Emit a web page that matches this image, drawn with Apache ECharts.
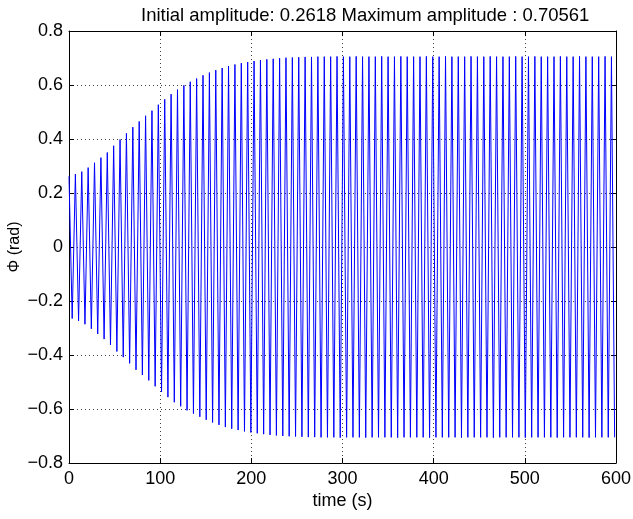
<!DOCTYPE html>
<html>
<head>
<meta charset="utf-8">
<script src="https://cdn.jsdelivr.net/npm/echarts@6/dist/echarts.min.js"></script>
<style>
html,body{margin:0;padding:0;background:#fff;}
#chart{width:633px;height:519px;}
</style>
</head>
<body>
<div id="chart"></div>
<script>
// Times (s) of the positive peaks
var peakTimes = [0,7,14,21,28,35,42,49,56,63,70,77,84,91,98,105,112,119,126,133,140,147,154,161,168,175,182,189,196,203,210,217,224,231,238,245,252,259,266,273,280,287,294,301,308,315,322,329,336,343,350,357,364,371,378,385,392,399,406,413,420,427,434,441,448,455,462,469,476,483,490,497,504,511,518,525,532,539,546,553,560,567,574,581,588,595];
// Positive peak values (rad)
var peakValues = [0.262,0.270,0.279,0.294,0.312,0.331,0.350,0.375,0.398,0.421,
 0.444,0.465,0.486,0.505,0.527,0.547,0.566,0.583,0.599,0.612,
 0.624,0.636,0.646,0.655,0.663,0.670,0.676,0.681,0.685,0.689,
 0.692,0.695,0.697,0.699,0.701,0.702,0.703,0.704,0.704,0.705,
 0.705,0.705,0.706,0.705,0.705,0.706,0.705,0.705,0.705,0.706,
 0.705,0.705,0.706,0.705,0.705,0.705,0.706,0.705,0.705,0.706,
 0.705,0.705,0.705,0.706,0.705,0.705,0.706,0.705,0.705,0.705,
 0.706,0.705,0.705,0.706,0.705,0.705,0.705,0.706,0.705,0.705,
 0.706,0.705,0.705,0.705,0.706,0.705];
// Times (s) of the negative peaks
var troughTimes = [3.5,10.5,17.5,24.5,31.5,38.5,45.5,52.5,59.5,66.5,73.5,80.5,87.5,94.5,101.5,108.5,115.5,122.5,129.5,136.5,143.5,150.5,157.5,164.5,171.5,178.5,185.5,192.5,199.5,206.5,213.5,220.5,227.5,234.5,241.5,248.5,255.5,262.5,269.5,276.5,283.5,290.5,297.5,304.5,311.5,318.5,325.5,332.5,339.5,346.5,353.5,360.5,367.5,374.5,381.5,388.5,395.5,402.5,409.5,416.5,423.5,430.5,437.5,444.5,451.5,458.5,465.5,472.5,479.5,486.5,493.5,500.5,507.5,514.5,521.5,528.5,535.5,542.5,549.5,556.5,563.5,570.5,577.5,584.5,591.5,598.5];
// Negative peak values (rad)
var troughValues = [-0.265,-0.274,-0.286,-0.303,-0.322,-0.341,-0.363,-0.387,-0.408,-0.431,
 -0.455,-0.474,-0.494,-0.516,-0.537,-0.556,-0.575,-0.590,-0.605,-0.617,
 -0.629,-0.640,-0.650,-0.659,-0.667,-0.673,-0.678,-0.683,-0.687,-0.690,
 -0.693,-0.696,-0.698,-0.700,-0.701,-0.702,-0.703,-0.704,-0.704,-0.705,
 -0.705,-0.705,-0.706,-0.705,-0.705,-0.705,-0.706,-0.705,-0.705,-0.705,
 -0.705,-0.706,-0.705,-0.705,-0.705,-0.705,-0.706,-0.705,-0.705,-0.705,
 -0.705,-0.706,-0.705,-0.705,-0.705,-0.705,-0.706,-0.705,-0.705,-0.705,
 -0.705,-0.706,-0.705,-0.705,-0.705,-0.705,-0.706,-0.705,-0.705,-0.705,
 -0.705,-0.706,-0.705,-0.705,-0.705,-0.705];
var xTicks = [0,100,200,300,400,500,600];
var yTicks = [-0.8,-0.6,-0.4,-0.2,0,0.2,0.4,0.6,0.8];
var titleText = 'Initial amplitude: 0.2618 Maximum amplitude : 0.70561';

var pts = [];
peakTimes.forEach(function(t,i){ pts.push([t, peakValues[i]]); });
troughTimes.forEach(function(t,i){ pts.push([t, troughValues[i]]); });
pts.sort(function(a,b){ return a[0]-b[0]; });

var FONT = '"Liberation Sans", Arial, Helvetica, sans-serif';
function fmtY(v){
  var r = Math.round(v*10)/10;
  if (r === 0) return '0';
  return (r < 0 ? '\u2212' : '') + Math.abs(r).toFixed(1);
}
var grid = {left:69, right:17, top:31, bottom:56, containLabel:false, outerBoundsMode:'none'};
var chart = echarts.init(document.getElementById('chart'), null, {renderer:'canvas'});
chart.setOption({
  animation:false,
  backgroundColor:'#fff',
  title:{text:titleText, left:136, top:1,
    textStyle:{fontFamily:FONT, fontSize:18.5, fontWeight:'normal', color:'#000'}},
  grid:grid,
  xAxis:[{
    type:'value', min:xTicks[0], max:xTicks[xTicks.length-1], interval:100,
    name:'time (s)', nameLocation:'middle', nameGap:29, nameMoveOverlap:false,
    nameTextStyle:{fontFamily:FONT, fontSize:18, color:'#000'},
    axisLine:{show:true, onZero:false, lineStyle:{color:'#000', width:1}},
    axisTick:{show:true, inside:true, length:5, lineStyle:{color:'#000'}},
    axisLabel:{fontFamily:FONT, fontSize:18, color:'#000', margin:7},
    splitLine:{show:true, lineStyle:{color:'#444', type:[1,3], width:1}}
  },{
    type:'value', position:'top', min:xTicks[0], max:xTicks[xTicks.length-1], interval:100,
    axisLine:{show:true, onZero:false, lineStyle:{color:'#000', width:1}},
    axisTick:{show:true, inside:true, length:5, lineStyle:{color:'#000'}},
    axisLabel:{show:false}, splitLine:{show:false}
  }],
  yAxis:[{
    type:'value', min:yTicks[0], max:yTicks[yTicks.length-1], interval:0.2,
    name:'\u03A6 (rad)', nameLocation:'middle', nameGap:46, nameMoveOverlap:false,
    nameTextStyle:{fontFamily:FONT, fontSize:16, color:'#000'},
    axisLine:{show:true, onZero:false, lineStyle:{color:'#000', width:1}},
    axisTick:{show:true, inside:true, length:5, lineStyle:{color:'#000'}},
    axisLabel:{fontFamily:FONT, fontSize:18, color:'#000', margin:6, formatter:fmtY},
    splitLine:{show:true, lineStyle:{color:'#444', type:[1,3], width:1}}
  },{
    type:'value', position:'right', min:yTicks[0], max:yTicks[yTicks.length-1], interval:0.2,
    axisLine:{show:true, onZero:false, lineStyle:{color:'#000', width:1}},
    axisTick:{show:true, inside:true, length:5, lineStyle:{color:'#000'}},
    axisLabel:{show:false}, splitLine:{show:false}
  }],
  series:[{
    type:'line', xAxisIndex:0, yAxisIndex:0, data:pts,
    showSymbol:false, symbol:'none',
    lineStyle:{color:'#0000ff', width:1},
    itemStyle:{color:'#0000ff'},
    z:1
  }]
});
</script>
</body>
</html>
